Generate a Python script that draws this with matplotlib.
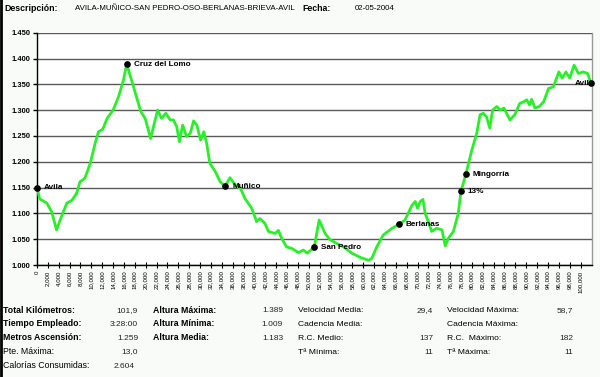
import matplotlib
matplotlib.use("Agg")
import matplotlib.pyplot as plt
from matplotlib.lines import Line2D

plt.rcParams['font.family'] = ['Liberation Sans', 'DejaVu Sans']

# ---- data ----
km = [0, 0.5, 1.8, 2.7, 3.6, 4.5, 5.5, 6.4, 7.3, 7.9, 8.8, 9.8, 10.7, 11.3, 12.1, 12.9,
      14.0, 15.0, 15.9, 16.5, 17.4, 18.2, 19.1, 19.9, 20.9, 21.5, 22.2, 22.9, 23.7, 24.5,
      25.1, 25.7, 26.2, 26.8, 27.5, 28.2, 28.8, 29.4, 30.1, 30.7, 31.2, 31.8, 32.8, 33.7,
      34.6, 35.5, 36.7, 37.4, 38.3, 39.5, 40.4, 41.0, 41.9, 42.6, 43.8, 44.4, 45.0, 45.9,
      46.9, 48.1, 49.0, 49.7, 51.0, 51.9, 53.0, 53.9, 55.1, 56.4, 57.9, 59.4, 61.0, 61.6,
      62.5, 63.7, 65.3, 66.6, 67.7, 69.0, 69.6, 70.0, 70.5, 71.0, 71.4, 72.0, 72.6, 73.5,
      74.5, 75.1, 75.7, 76.6, 77.5, 78.0, 78.9, 80.0, 80.9, 81.5, 82.1, 82.7, 83.3, 83.8,
      84.6, 85.2, 85.9, 87.0, 87.9, 88.8, 89.5, 90.1, 90.6, 91.0, 91.6, 92.4, 93.2, 94.1,
      95.0, 96.0, 96.6, 97.3, 98.0, 98.8, 99.6, 100.5, 101.3, 101.9]
elev = [1150, 1128, 1120, 1103, 1068, 1094, 1120, 1125, 1139, 1161, 1168, 1197, 1236, 1258,
        1263, 1284, 1300, 1326, 1358, 1389, 1358, 1329, 1297, 1284, 1245, 1271, 1300, 1284,
        1294, 1281, 1281, 1268, 1239, 1271, 1249, 1255, 1279, 1271, 1242, 1258, 1236, 1197,
        1181, 1161, 1153, 1169, 1152, 1149, 1128, 1110, 1084, 1090, 1081, 1065, 1061, 1067,
        1052, 1035, 1032, 1024, 1029, 1023, 1034, 1087, 1061, 1049, 1042, 1035, 1023, 1015,
        1009, 1013, 1035, 1058, 1071, 1079, 1087, 1116, 1123, 1110, 1123, 1127, 1100, 1084,
        1065, 1071, 1068, 1037, 1052, 1065, 1100, 1143, 1176, 1223, 1255, 1291, 1294, 1287,
        1265, 1300, 1307, 1300, 1304, 1281, 1291, 1313, 1316, 1320, 1310, 1321, 1304, 1307,
        1316, 1342, 1345, 1374, 1362, 1374, 1362, 1387, 1371, 1374, 1371, 1352]

wp_names = ["Avila", "Cruz del Lomo", "Muñico", "San Pedro", "Berlanas", "13%", "Mingorría", "Avila"]
wp_km = [0, 16.5, 34.6, 51.0, 66.6, 78.0, 78.9, 101.9]
wp_elev = [1150, 1389, 1153, 1034, 1079, 1143, 1176, 1352]

y_ticks = [1000, 1050, 1100, 1150, 1200, 1250, 1300, 1350, 1400, 1450]
x_ticks = list(range(0, 101, 2))

header_desc = "AVILA-MUÑICO-SAN PEDRO-OSO-BERLANAS-BRIEVA-AVIL"
header_date = "02-05-2004"

col1_labels = ["Total Kilómetros:", "Tiempo Empleado:", "Metros Ascensión:", "Pte. Máxima:", "Calorías Consumidas:"]
col1_values = ["101,9", "3:28:00", "1.259", "13,0", "2.604"]
col2_labels = ["Altura Máxima:", "Altura Mínima:", "Altura Media:"]
col2_values = ["1.389", "1.009", "1.183"]
col3_labels = ["Velocidad Media:", "Cadencia Media:", "R.C. Medio:", "Tª Mínima:"]
col3_values = ["29,4", "", "137", "11"]
col4_labels = ["Velocidad Máxima:", "Cadencia Máxima:", "R.C.  Máximo:", "Tª Máxima:"]
col4_values = ["58,7", "", "182", "11"]

# ---- figure ----
W, H = 600, 377
fig = plt.figure(figsize=(W / 100, H / 100), dpi=100)
fig.patch.set_facecolor('#f8fbf8')

def fx(px):
    return px / W

def fy(py):
    return 1 - py / H

ax = fig.add_axes([fx(37), fy(265), fx(592) - fx(37), fy(32.7) - fy(265)])
ax.set_facecolor('white')
ax.plot(km, elev, color='#2aee2a', lw=2.0, solid_joinstyle='round', zorder=3)
ax.plot(wp_km, wp_elev, 'o', color='black', ms=3.8, zorder=5, clip_on=False)
for i, (n, k, e) in enumerate(zip(wp_names, wp_km, wp_elev)):
    off = -11.5 if i == len(wp_names) - 1 else 5
    ax.annotate(n, (k, e), xytext=(off, 0), textcoords='offset points',
                ha='left', va='center', fontsize=5.9, fontweight='bold', color='black',
                zorder=6, annotation_clip=False)

ax.set_xlim(0, 102.1)
ax.set_ylim(1000, 1450)
ax.set_yticks(y_ticks)
ax.set_yticklabels([f"{v // 1000}.{v % 1000:03d}" for v in y_ticks], fontweight='bold', fontsize=5.4)
ax.set_xticks(x_ticks)
ax.set_xticklabels(["0" if v == 0 else f"{v},000" for v in x_ticks], rotation=90, fontsize=4.4)
ax.yaxis.grid(True, color='#5a5a5a', lw=1.0)
ax.set_axisbelow(True)
ax.tick_params(axis='y', direction='out', length=3, width=1, pad=1.5, colors='black')
ax.tick_params(axis='x', direction='inout', length=5, width=0.8, pad=1.5, colors='black')
for s in ['left', 'bottom']:
    ax.spines[s].set_color('black')
    ax.spines[s].set_linewidth(1.0)
ax.spines['right'].set_color('#9a9a9a')
ax.spines['right'].set_linewidth(1.0)
ax.spines['top'].set_visible(False)

# left frame line
fig.add_artist(Line2D([0.002, 0.002], [0, 1], transform=fig.transFigure, color='black', lw=2))

# header
fig.text(fx(4), fy(8.5), "Descripción:", fontsize=6.3, fontweight='bold', va='center', ha='left')
fig.text(fx(75), fy(8.5), header_desc, fontsize=5.7, va='center', ha='left')
fig.text(fx(302), fy(8.5), "Fecha:", fontsize=6.3, fontweight='bold', va='center', ha='left')
fig.text(fx(355), fy(8.5), header_date, fontsize=5.7, va='center', ha='left')

# bottom table
rows_y = [310.5, 324, 338, 352, 366]
bold1 = [True, True, True, False, False]
for i, (lab, val) in enumerate(zip(col1_labels, col1_values)):
    fig.text(fx(3), fy(rows_y[i]), lab, fontsize=6.3, fontweight='bold' if bold1[i] else 'normal',
             va='center', ha='left')
    xr = 135 if i == 4 else 138
    fig.text(fx(xr), fy(rows_y[i]), val, fontsize=6, va='center', ha='right', color='#222222')
for i, (lab, val) in enumerate(zip(col2_labels, col2_values)):
    fig.text(fx(153), fy(rows_y[i]), lab, fontsize=6.3, fontweight='bold', va='center', ha='left')
    fig.text(fx(283), fy(rows_y[i]), val, fontsize=6, va='center', ha='right', color='#222222')
for i, (lab, val) in enumerate(zip(col3_labels, col3_values)):
    fig.text(fx(298), fy(rows_y[i]), lab, fontsize=6.1, va='center', ha='left')
    fig.text(fx(433), fy(rows_y[i]), val, fontsize=6, va='center', ha='right', color='#222222')
for i, (lab, val) in enumerate(zip(col4_labels, col4_values)):
    fig.text(fx(447), fy(rows_y[i]), lab, fontsize=6.1, va='center', ha='left')
    fig.text(fx(573), fy(rows_y[i]), val, fontsize=6, va='center', ha='right', color='#222222')

fig.savefig("out.png", dpi=100, facecolor=fig.get_facecolor())
